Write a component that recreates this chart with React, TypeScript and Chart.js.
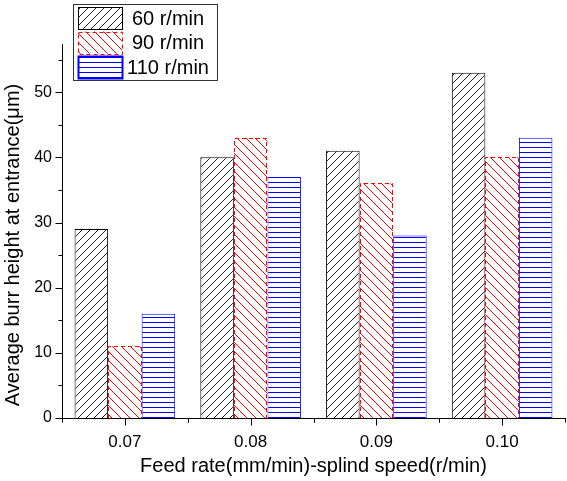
import React, { useEffect, useRef } from 'react';
import { Chart, registerables } from 'chart.js';

Chart.register(...registerables);

const categories = ['0.07', '0.08', '0.09', '0.10'];
const seriesNames = ['60 r/min', '90 r/min', '110 r/min'];
const s60 = [29, 40, 41, 53];
const s90 = [11, 43, 36, 40];
const s110 = [16, 37, 28, 43];
const yTicks = [0, 10, 20, 30, 40, 50];
const yMin = 0;
const yMax = 57.4;
const xTitle = 'Feed rate(mm/min)-splind speed(r/min)';
const yTitle = 'Average burr height at entrance(\u03bcm)';

const FONT = 'Arial, "Liberation Sans", sans-serif';
const seriesColors = ['#000000', '#ff0000', '#0000ff'];

type Kind = 'fwd' | 'back' | 'horiz';

function makePattern(ctx: CanvasRenderingContext2D, kind: Kind, color: string, size: number): CanvasPattern {
  const c = document.createElement('canvas');
  c.width = kind === 'horiz' ? 8 : size;
  c.height = size;
  const g = c.getContext('2d')!;
  g.fillStyle = '#ffffff';
  g.fillRect(0, 0, c.width, c.height);
  g.strokeStyle = color;
  g.lineWidth = 1;
  g.beginPath();
  if (kind === 'fwd') {
    g.moveTo(0, size); g.lineTo(size, 0);
    g.moveTo(-1, 1); g.lineTo(1, -1);
    g.moveTo(size - 1, size + 1); g.lineTo(size + 1, size - 1);
  } else if (kind === 'back') {
    g.moveTo(0, 0); g.lineTo(size, size);
    g.moveTo(size - 1, -1); g.lineTo(size + 1, 1);
    g.moveTo(-1, size - 1); g.lineTo(1, size + 1);
  } else {
    g.moveTo(0, 2.5); g.lineTo(c.width, 2.5);
  }
  g.stroke();
  return ctx.createPattern(c, 'repeat')!;
}

const axisTicksPlugin = {
  id: 'axisTicks',
  afterDraw(chart: any) {
    const { ctx, chartArea, scales } = chart;
    const xs = scales.x;
    const ys = scales.y;
    const ax = chartArea.left + 0.5;
    const ay = Math.round(ys.getPixelForValue(0)) + 0.5;
    ctx.save();
    ctx.strokeStyle = '#000';
    ctx.lineWidth = 1;
    ctx.setLineDash([]);
    ctx.beginPath();
    // y axis major + minor ticks
    for (let i = 0; i < yTicks.length; i++) {
      const v = yTicks[i];
      const py = Math.round(ys.getPixelForValue(v)) + 0.5;
      ctx.moveTo(ax - 7, py); ctx.lineTo(ax, py);
      const mv = (v + (yTicks[i + 1] ?? v + (yTicks[1] - yTicks[0]))) / 2;
      if (mv < yMax) {
        const my = Math.round(ys.getPixelForValue(mv)) + 0.5;
        ctx.moveTo(ax - 4, my); ctx.lineTo(ax, my);
      }
    }
    // x axis ticks: major at category centers, minor at boundaries
    const half = (xs.getPixelForValue(1) - xs.getPixelForValue(0)) / 2;
    for (let i = 0; i < categories.length; i++) {
      const c = xs.getPixelForValue(i);
      const cx = Math.round(c) + 0.5;
      ctx.moveTo(cx, ay); ctx.lineTo(cx, ay + 7);
      for (const p of [c - half, c + half]) {
        const px = Math.round(p) + 0.5;
        ctx.moveTo(px, ay); ctx.lineTo(px, ay + 4);
      }
    }
    ctx.stroke();
    ctx.restore();
  },
};

const yTitlePlugin = {
  id: 'yTitle',
  afterDraw(chart: any) {
    const { ctx } = chart;
    ctx.save();
    ctx.translate(13, 245);
    ctx.rotate(-Math.PI / 2);
    ctx.fillStyle = '#000';
    ctx.font = `20px ${FONT}`;
    ctx.textAlign = 'center';
    ctx.textBaseline = 'middle';
    ctx.fillText(yTitle, 0, 0);
    ctx.restore();
  },
};

const dashedBorderPlugin = {
  id: 'dashedBorder',
  afterDatasetsDraw(chart: any) {
    const { ctx } = chart;
    const meta = chart.getDatasetMeta(1);
    ctx.save();
    ctx.strokeStyle = seriesColors[1];
    ctx.lineWidth = 1;
    ctx.setLineDash([4, 3]);
    meta.data.forEach((el: any) => {
      const { x, y, base, width } = el.getProps(['x', 'y', 'base', 'width'], true);
      const l = Math.round(x - width / 2) + 0.5;
      const r = Math.round(x + width / 2) - 0.5;
      const t = Math.round(y) + 0.5;
      ctx.beginPath();
      ctx.moveTo(l, base); ctx.lineTo(l, t); ctx.lineTo(r, t); ctx.lineTo(r, base);
      ctx.stroke();
    });
    ctx.restore();
  },
};

const boxLegendPlugin = {
  id: 'boxLegend',
  afterDraw(chart: any) {
    const { ctx, chartArea } = chart;
    const bx = chartArea.left + 11;
    const by = 4;
    const bw = 144;
    const bh = 76;
    ctx.save();
    ctx.fillStyle = '#ffffff';
    ctx.fillRect(bx, by, bw, bh);
    ctx.strokeStyle = '#333333';
    ctx.lineWidth = 1;
    ctx.setLineDash([]);
    ctx.strokeRect(bx + 0.5, by + 0.5, bw, bh);
    chart.data.datasets.forEach((ds: any, i: number) => {
      const sx = bx + 5;
      const sy = by + 3 + i * 24.5;
      const sw = 44;
      const sh = 22;
      ctx.fillStyle = ds.backgroundColor;
      ctx.fillRect(sx, sy, sw, sh);
      ctx.strokeStyle = seriesColors[i];
      ctx.lineWidth = i === 2 ? 2 : 1;
      ctx.setLineDash(i === 1 ? [4, 3] : []);
      ctx.strokeRect(Math.round(sx) + 0.5, Math.round(sy) + 0.5, sw, sh);
      ctx.setLineDash([]);
      ctx.fillStyle = '#000000';
      ctx.font = `20px ${FONT}`;
      ctx.textAlign = 'center';
      ctx.textBaseline = 'middle';
      ctx.fillText(seriesNames[i], bx + 95, sy + sh / 2 + 1);
    });
    ctx.restore();
  },
};

export default function App() {
  const canvasRef = useRef<HTMLCanvasElement | null>(null);

  useEffect(() => {
    document.body.style.margin = '0';
    const canvas = canvasRef.current!;
    const ctx = canvas.getContext('2d')!;
    const pBlack = makePattern(ctx, 'fwd', '#222222', 8);
    const pRed = makePattern(ctx, 'back', '#ff0000', 9);
    const pBlue = makePattern(ctx, 'horiz', '#0000ff', 5);

    const chart = new Chart(canvas, {
      type: 'bar',
      data: {
        labels: categories,
        datasets: [
          { label: seriesNames[0], data: s60, backgroundColor: pBlack as any, borderColor: seriesColors[0], borderWidth: 1 },
          { label: seriesNames[1], data: s90, backgroundColor: pRed as any, borderColor: seriesColors[1], borderWidth: 0 },
          { label: seriesNames[2], data: s110, backgroundColor: pBlue as any, borderColor: seriesColors[2], borderWidth: 1 },
        ],
      },
      options: {
        responsive: false,
        animation: false,
        layout: { padding: { top: 44, right: 2, left: 0, bottom: 0 } },
        datasets: { bar: { barPercentage: 1, categoryPercentage: 0.8 } },
        plugins: {
          legend: { display: false },
          tooltip: { enabled: false },
        },
        scales: {
          x: {
            type: 'category',
            offset: true,
            grid: { display: false, drawTicks: false },
            border: { display: true, color: '#000', width: 1 },
            ticks: { color: '#000', font: { family: FONT, size: 17 }, padding: 14 },
            title: {
              display: true,
              text: xTitle,
              color: '#000',
              font: { family: FONT, size: 20 },
              padding: { top: 0, bottom: 3 },
            },
            afterFit: (s: any) => { s.height = 63; },
          },
          y: {
            type: 'linear',
            min: yMin,
            max: yMax,
            grid: { display: false, drawTicks: false },
            border: { display: true, color: '#000', width: 1 },
            afterBuildTicks: (s: any) => { s.ticks = yTicks.map((v) => ({ value: v })); },
            ticks: { color: '#000', font: { family: FONT, size: 16 }, padding: 10 },
            title: { display: false, text: yTitle },
            afterFit: (s: any) => { s.width = 62; },
          },
        },
      },
      plugins: [dashedBorderPlugin, axisTicksPlugin, yTitlePlugin, boxLegendPlugin],
    });
    return () => chart.destroy();
  }, []);

  return (
    <div style={{ position: 'relative', width: 567, height: 481 }}>
      <canvas ref={canvasRef} width={567} height={481} />
    </div>
  );
}
